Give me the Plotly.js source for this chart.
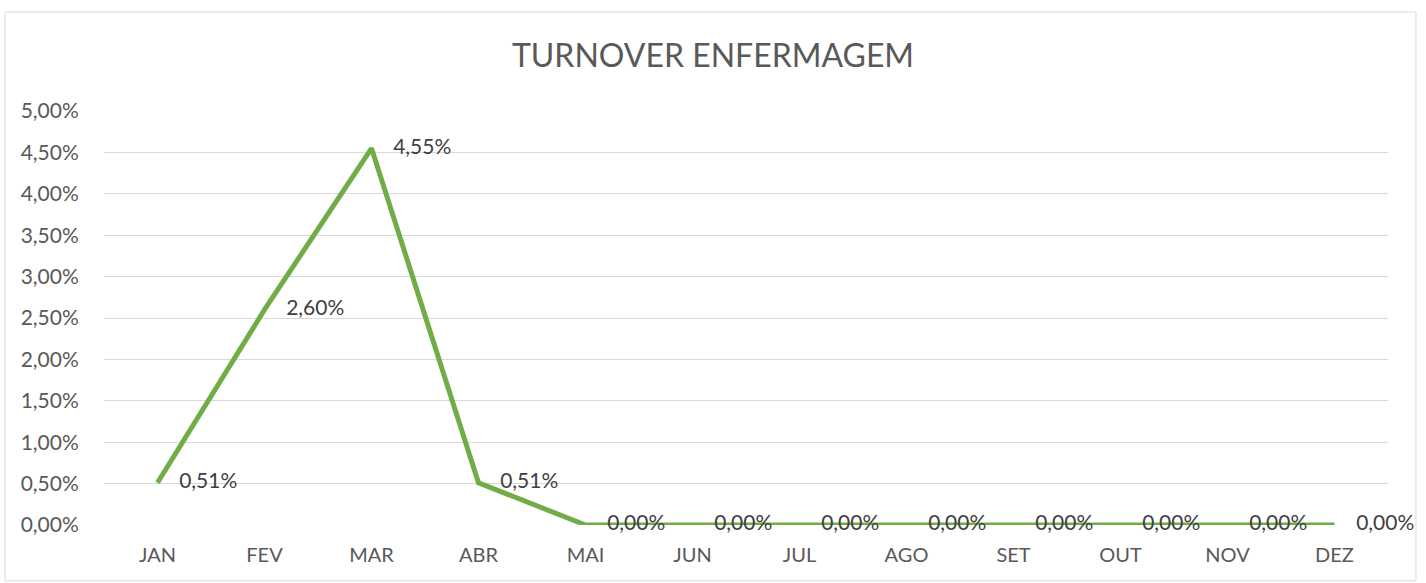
<!DOCTYPE html>
<html><head><meta charset="utf-8">
<script src="https://cdn.plot.ly/plotly-3.0.1.min.js"></script>
<style>html,body{margin:0;padding:0;background:#fff;}#chart{width:1426px;height:583px;}</style>
</head><body><div id="chart"></div>
<script>
const months = ["JAN","FEV","MAR","ABR","MAI","JUN","JUL","AGO","SET","OUT","NOV","DEZ"];
const turnover = [0.0051,0.026,0.0455,0.0051,0,0,0,0,0,0,0,0];
const yTicks = [0,0.005,0.01,0.015,0.02,0.025,0.03,0.035,0.04,0.045,0.05];

const font = "Lato, 'Open Sans', sans-serif";
const trace = {
  x: months, y: turnover, type: 'scatter', mode: 'lines+markers+text',
  line: {color: '#70AD47', width: 5},
  marker: {size: 33, color: 'rgba(0,0,0,0)', line: {width: 0}},
  texttemplate: '%{y:.2%}', textposition: 'middle right',
  textfont: {family: font, size: 21, color: '#404040'},
  cliponaxis: false, hoverinfo: 'skip'
};
const layout = {
  width: 1426, height: 583,
  margin: {l: 104, r: 38, t: 111, b: 58},
  paper_bgcolor: '#fff', plot_bgcolor: '#fff',
  separators: ',.',
  showlegend: false,
  title: {text: 'TURNOVER ENFERMAGEM', font: {family: font, size: 32, color: '#595959'}, x: 0.5, xanchor: 'center', y: 0.905, yanchor: 'middle'},
  xaxis: {type: 'category', range: [-0.5, 11.5], showgrid: false, zeroline: false, showline: false,
    ticks: 'outside', ticklen: 12, tickcolor: 'rgba(0,0,0,0)',
    tickfont: {family: font, size: 20, color: '#595959'}},
  yaxis: {range: [0, 0.05], tickvals: yTicks, tickformat: '.2%', showgrid: true, gridcolor: '#d9d9d9', gridwidth: 1,
    zeroline: false, showline: false, ticks: 'outside', ticklen: 20, tickcolor: 'rgba(0,0,0,0)',
    tickfont: {family: font, size: 21, color: '#595959'}},
  shapes: [{type: 'rect', xref: 'paper', yref: 'paper', x0: -0.0771, x1: 1.0218, y0: -0.135, y1: 1.239,
    line: {color: '#d9d9d9', width: 1}, fillcolor: 'rgba(0,0,0,0)', layer: 'below'}]
};
Plotly.newPlot('chart', [trace], layout, {displayModeBar: false, staticPlot: true});
</script></body></html>
